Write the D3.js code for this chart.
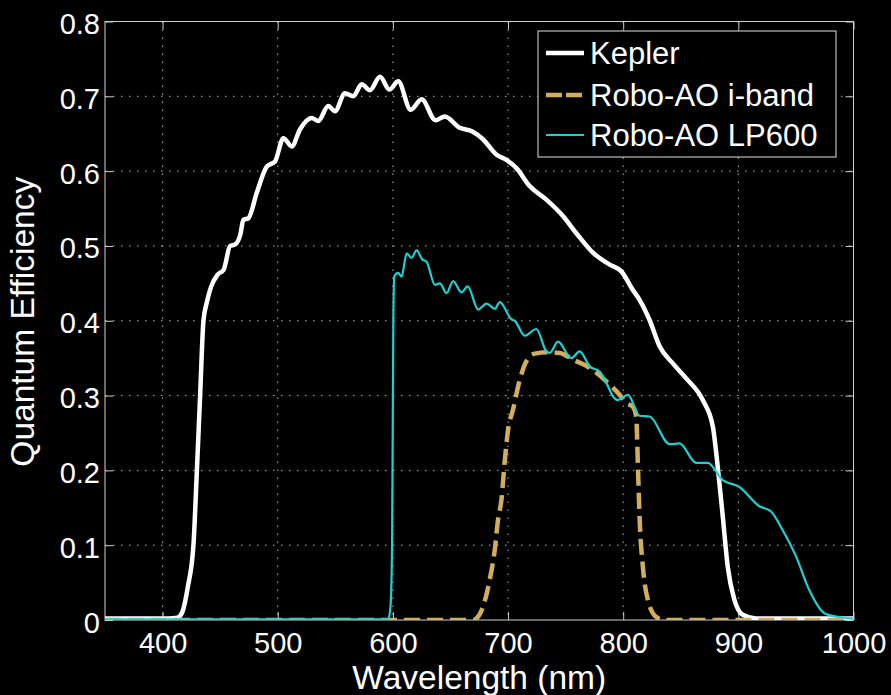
<!DOCTYPE html>
<html>
<head>
<meta charset="utf-8">
<script src="https://cdn.jsdelivr.net/npm/d3@7"></script>
<style>
  html, body { margin: 0; padding: 0; background: #000; }
  svg { display: block; }
  text { font-family: "Liberation Sans", Arial, Helvetica, sans-serif; fill: #fff; }
</style>
</head>
<body>
<script>
// Kepler quantum efficiency (wavelength in nm)
const keplerWl = [350, 380, 405, 413, 417, 422, 426.8, 429.8, 432.6, 435.5, 438.5, 442, 448, 453, 458.7, 463, 467.5, 470.2, 474.5, 481.8, 490.5, 497.7, 504.9, 512.2, 519.4, 529.5, 535.2, 543.9, 549.7, 558.4, 565.6, 572.9, 580.1, 588.8, 597, 604.6, 615.5, 625, 637, 645, 658, 669, 678, 690, 698.6, 707.3, 718.8, 733.3, 747.7, 759.3, 773.7, 788.2, 798.4, 808.4, 814.2, 822.9, 831.6, 843.1, 854.7, 869.1, 877.8, 882.1, 886.5, 890.8, 896.6, 903.8, 915.4, 1000];
const keplerQE = [0.002, 0.002, 0.002, 0.003, 0.01, 0.045, 0.10, 0.20, 0.30, 0.40, 0.425, 0.445, 0.462, 0.468, 0.50, 0.502, 0.515, 0.535, 0.537, 0.571, 0.606, 0.613, 0.644, 0.633, 0.656, 0.671, 0.667, 0.687, 0.680, 0.704, 0.700, 0.716, 0.708, 0.726, 0.709, 0.720, 0.682, 0.696, 0.668, 0.673, 0.658, 0.653, 0.643, 0.622, 0.615, 0.604, 0.580, 0.562, 0.540, 0.517, 0.491, 0.475, 0.466, 0.441, 0.428, 0.401, 0.366, 0.343, 0.323, 0.294, 0.259, 0.205, 0.138, 0.071, 0.027, 0.007, 0.002, 0.002];

// Robo-AO i-band filter throughput
const ibandWl = [350, 670, 672.6, 678.3, 684.1, 688.5, 691.3, 694.3, 697, 700, 704.3, 710.2, 716, 723.2, 733.3, 744.9, 756.4, 771.1, 785.4, 796.9, 802.7, 808.4, 811.3, 812.8, 814.2, 817.1, 821.4, 828.7, 835, 1000];
const ibandQE = [0, 0, 0.002, 0.018, 0.054, 0.094, 0.134, 0.161, 0.21, 0.254, 0.281, 0.321, 0.346, 0.356, 0.358, 0.357, 0.348, 0.337, 0.319, 0.301, 0.290, 0.285, 0.272, 0.205, 0.138, 0.071, 0.027, 0.004, 0, 0];

// Robo-AO LP600 long-pass filter throughput
const lp600Wl = [350, 596, 598, 599.3, 600.4, 601.2, 604.6, 607.5, 612, 616.2, 620.6, 625.5, 629.2, 636.5, 640.8, 646.6, 652.3, 659.6, 665, 674, 681.3, 688.5, 692.8, 703, 705.8, 714.5, 724.6, 733.3, 736.2, 743.4, 755, 762.2, 770.9, 779.6, 786, 791.1, 795.4, 804.1, 814.2, 822.9, 840.3, 848.9, 863.4, 873.4, 886.5, 900.8, 918.3, 928.4, 938.5, 950.1, 961.6, 974.7, 987.6, 1000];
const lp600QE = [0.001, 0.001, 0.02, 0.1, 0.40, 0.459, 0.464, 0.459, 0.490, 0.484, 0.494, 0.482, 0.479, 0.448, 0.450, 0.437, 0.453, 0.438, 0.446, 0.415, 0.423, 0.416, 0.425, 0.402, 0.400, 0.380, 0.389, 0.359, 0.357, 0.372, 0.350, 0.359, 0.339, 0.332, 0.315, 0.299, 0.294, 0.301, 0.273, 0.272, 0.235, 0.236, 0.210, 0.210, 0.187, 0.178, 0.152, 0.145, 0.120, 0.085, 0.040, 0.009, 0.004, 0.002];

const xTicks = [400, 500, 600, 700, 800, 900, 1000];
const yTicks = [0, 0.1, 0.2, 0.3, 0.4, 0.5, 0.6, 0.7, 0.8];
const seriesNames = ["Kepler", "Robo-AO i-band", "Robo-AO LP600"];

const W = 891, H = 695;
const plot = { left: 105, right: 853.5, top: 21.5, bottom: 620 };

const x = d3.scaleLinear().domain([350, 1000]).range([plot.left, plot.right]);
const y = d3.scaleLinear().domain([0, 0.8]).range([plot.bottom, plot.top]);

const svg = d3.select("body").append("svg").attr("width", W).attr("height", H);
svg.append("rect").attr("width", W).attr("height", H).attr("fill", "#000");

const gridColor = "#b4b4b4";
const axisColor = "#cfcfcf";

// dotted grid
const grid = svg.append("g");
grid.selectAll("line.gx").data(xTicks.filter(d => d < 1000)).join("line")
  .attr("x1", d => x(d)).attr("x2", d => x(d))
  .attr("y1", plot.top).attr("y2", plot.bottom)
  .attr("stroke", gridColor).attr("stroke-width", 1).attr("stroke-dasharray", "1.5,6.5");
grid.selectAll("line.gy").data(yTicks.filter(d => d > 0 && d < 0.8)).join("line")
  .attr("x1", plot.left).attr("x2", plot.right)
  .attr("y1", d => y(d)).attr("y2", d => y(d))
  .attr("stroke", gridColor).attr("stroke-width", 1).attr("stroke-dasharray", "1.5,6.5");

// axes with inward ticks on all four sides
const fmtY = d => d === 0 ? "0" : d3.format(".1f")(d);
const tickFont = 29;

const gx = svg.append("g").attr("transform", `translate(0,${plot.bottom})`)
  .call(d3.axisBottom(x).tickValues(xTicks).tickSize(-8).tickPadding(12).tickFormat(d3.format("d")));
const gxTop = svg.append("g").attr("transform", `translate(0,${plot.top})`)
  .call(d3.axisTop(x).tickValues(xTicks).tickSize(-8).tickFormat(""));
const gy = svg.append("g").attr("transform", `translate(${plot.left},0)`)
  .call(d3.axisLeft(y).tickValues(yTicks).tickSize(-8).tickPadding(5).tickFormat(fmtY));
const gyR = svg.append("g").attr("transform", `translate(${plot.right},0)`)
  .call(d3.axisRight(y).tickValues(yTicks).tickSize(-8).tickFormat(""));

[gx, gxTop, gy, gyR].forEach(g => {
  g.select(".domain").remove();
  g.selectAll(".tick line").attr("stroke", axisColor).attr("stroke-width", 1);
  g.selectAll("text").attr("font-size", tickFont).attr("fill", "#fff")
    .attr("font-family", "'Liberation Sans', Arial, Helvetica, sans-serif");
});
gy.selectAll("text").attr("dy", "12px");

svg.append("rect")
  .attr("x", plot.left).attr("y", plot.top)
  .attr("width", plot.right - plot.left).attr("height", plot.bottom - plot.top)
  .attr("fill", "none").attr("stroke", axisColor).attr("stroke-width", 1);

// curves
svg.append("clipPath").attr("id", "plotClip").append("rect")
  .attr("x", plot.left).attr("y", plot.top)
  .attr("width", plot.right - plot.left).attr("height", plot.bottom - plot.top);

const line = d3.line().x(d => x(d[0])).y(d => y(d[1])).curve(d3.curveMonotoneX);
const curves = svg.append("g").attr("clip-path", "url(#plotClip)");

const styles = [
  { color: "#ffffff", width: 4.5, dash: null },
  { color: "#d2ae5c", width: 4.5, dash: "16,7" },
  { color: "#1fd0d0", width: 2.2, dash: null }
];
const series = [
  d3.zip(keplerWl, keplerQE),
  d3.zip(ibandWl, ibandQE),
  d3.zip(lp600Wl, lp600QE)
];
series.forEach((pts, i) => {
  curves.append("path").datum(pts)
    .attr("d", line)
    .attr("fill", "none")
    .attr("stroke", styles[i].color)
    .attr("stroke-width", styles[i].width)
    .attr("stroke-dasharray", styles[i].dash)
    .attr("stroke-linejoin", "round");
});

// axis titles
svg.append("text")
  .attr("x", (plot.left + plot.right) / 2).attr("y", 689)
  .attr("text-anchor", "middle").attr("font-size", 33.5)
  .text("Wavelength (nm)");
svg.append("text")
  .attr("transform", `translate(34,${(plot.top + plot.bottom) / 2 + 1}) rotate(-90)`)
  .attr("text-anchor", "middle").attr("font-size", 33.5)
  .text("Quantum Efficiency");

// legend
const lg = svg.append("g");
lg.append("rect").attr("x", 538).attr("y", 31).attr("width", 298).attr("height", 126)
  .attr("fill", "#000").attr("stroke", "#e0e0e0").attr("stroke-width", 1);
const rowY = [53, 95, 135];
seriesNames.forEach((name, i) => {
  lg.append("line")
    .attr("x1", 546).attr("x2", 584).attr("y1", rowY[i]).attr("y2", rowY[i])
    .attr("stroke", styles[i].color).attr("stroke-width", styles[i].width)
    .attr("stroke-dasharray", styles[i].dash ? "16,4" : null);
  lg.append("text").attr("x", 590).attr("y", rowY[i]).attr("dy", "0.36em")
    .attr("font-size", 31).text(name);
});
</script>
</body>
</html>
